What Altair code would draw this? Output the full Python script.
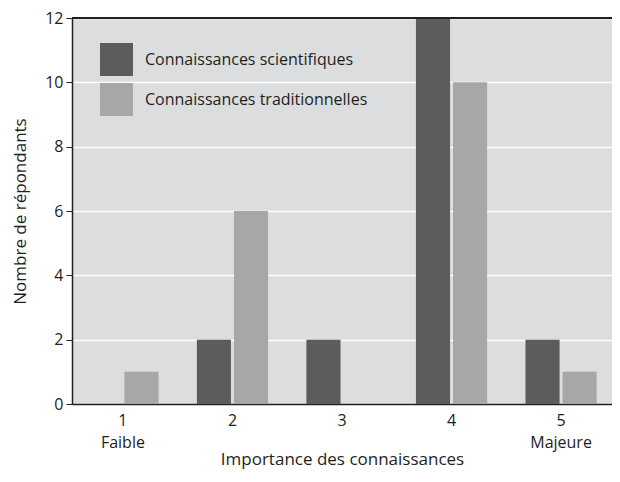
import altair as alt
import pandas as pd

categories = ["1", "2", "3", "4", "5"]
sublabels = ["Faible", "", "", "", "Majeure"]
series = ["Connaissances scientifiques", "Connaissances traditionnelles"]
scientifiques = [0, 2, 2, 12, 2]
traditionnelles = [1, 6, 0, 10, 1]

rows = []
for c, a, b in zip(categories, scientifiques, traditionnelles):
    rows.append({"cat": c, "serie": series[0], "n": a})
    rows.append({"cat": c, "serie": series[1], "n": b})
df = pd.DataFrame(rows)

FONT = "Open Sans"
TXT = "#231f20"

label_expr = "datum.value == '1' ? ['1', 'Faible'] : datum.value == '5' ? ['5', 'Majeure'] : datum.value"

bars = alt.Chart(df).mark_bar().encode(
    x=alt.X("cat:N", sort=categories,
            scale=alt.Scale(paddingInner=0.35, paddingOuter=0.14),
            axis=alt.Axis(title="Importance des connaissances", labelAngle=0,
                          labelExpr=label_expr, ticks=False, domainColor=TXT,
                          domainWidth=1.5, labelPadding=8, labelLineHeight=22,
                          titlePadding=1, grid=False)),
    xOffset=alt.XOffset("serie:N", sort=series, scale=alt.Scale(paddingInner=0.08)),
    y=alt.Y("n:Q", scale=alt.Scale(domain=[0, 12], nice=False),
            axis=alt.Axis(title="Nombre de répondants", values=[0, 2, 4, 6, 8, 10, 12],
                          tickSize=6, tickColor=TXT, domainColor=TXT, domainWidth=1.5,
                          gridColor="white", gridWidth=1.5, labelPadding=3,
                          titlePadding=15)),
    color=alt.Color("serie:N", sort=series,
                    scale=alt.Scale(domain=series, range=["#5b5c5e", "#a6a7a9"]),
                    legend=alt.Legend(title=None, orient="none", legendX=28, legendY=25,
                                      symbolType="square", symbolSize=1089,
                                      symbolStrokeWidth=0, rowPadding=7,
                                      labelOffset=12, labelFontSize=16, labelLimit=0,
                                      labelColor=TXT, labelFont=FONT)),
)

top = alt.Chart(df).mark_rule(color=TXT, strokeWidth=2).encode(y=alt.datum(12))

chart = alt.layer(bars, top).properties(
    width=540, height=386,
    autosize=alt.AutoSizeParams(type="none"),
    padding={"left": 64, "top": 10, "right": 0, "bottom": 66},
    background="white",
).configure_view(fill="#dcdddf", stroke=None).configure_axis(
    labelFont=FONT, titleFont=FONT, labelFontSize=16, titleFontSize=17,
    labelColor=TXT, titleColor=TXT, titleFontWeight="normal",
)

chart.save("out.html", embed_options={"renderer": "svg", "actions": False})
